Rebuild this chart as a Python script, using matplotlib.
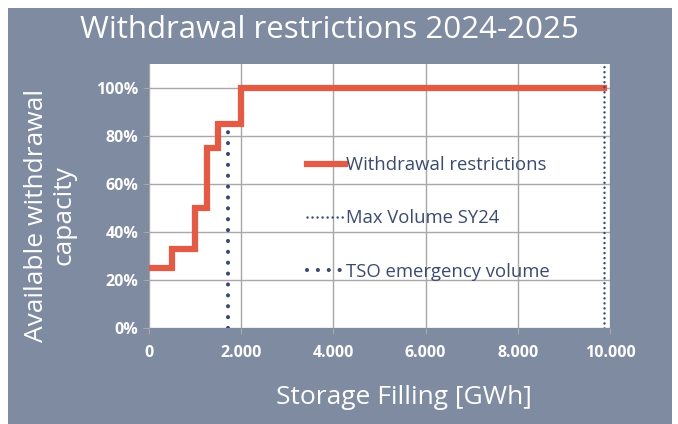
import matplotlib
matplotlib.use("Agg")
import matplotlib.pyplot as plt
from matplotlib.patches import Rectangle
from matplotlib.ticker import FuncFormatter

# Data
step_x = [0, 500, 1000, 1250, 1500, 2000, 9870]
step_y = [25, 33, 50, 75, 85, 100, 100]
max_volume_sy24 = 9870
tso_emergency_volume = 1710
tso_emergency_top = 86
x_ticks = [0, 2000, 4000, 6000, 8000, 10000]
y_ticks = [0, 20, 40, 60, 80, 100]

BG = "#7F8BA0"
RED = "#E35A45"
NAVY = "#3B4A6E"
GRID = "#A8A8A8"
FONT = ["Open Sans", "DejaVu Sans"]

plt.rcParams['font.family'] = FONT

fig = plt.figure(figsize=(6.78, 4.24), dpi=100)
fig.patches.append(Rectangle((8/678, 0), (672-8)/678, (424-8)/424,
                             transform=fig.transFigure, facecolor=BG,
                             edgecolor='none', zorder=-5))

ax = fig.add_axes([149/678, 1-328/424, (610-149)/678, (328-64)/424])
ax.set_facecolor("white")
ax.set_xlim(0, 10000)
ax.set_ylim(0, 110)

ax.step(step_x, step_y, where='post', color=RED, lw=4.5, solid_joinstyle='miter',
        label="Withdrawal restrictions", zorder=4)
ax.plot([max_volume_sy24, max_volume_sy24], [0, 110], color=NAVY, lw=1.8,
        linestyle=(0, (0.01, 2.0)), dash_capstyle='round', label="Max Volume SY24", zorder=5)
ax.plot([tso_emergency_volume, tso_emergency_volume], [0, tso_emergency_top], color=NAVY, lw=3,
        linestyle=(0, (0.01, 2.6)), dash_capstyle='round', label="TSO emergency volume", zorder=5)

ax.set_xticks(x_ticks)
ax.set_yticks(y_ticks)
ax.xaxis.set_major_formatter(FuncFormatter(lambda v, p: f"{int(v):,}".replace(",", ".")))
ax.yaxis.set_major_formatter(FuncFormatter(lambda v, p: f"{int(v)}%"))
ax.grid(True, color=GRID, lw=1.0)
ax.set_axisbelow(True)
for s in ax.spines.values():
    s.set_visible(False)
ax.tick_params(axis='both', colors=GRID, length=4, width=0.8, labelcolor='white', labelsize=11.5)
ax.tick_params(axis='x', pad=8)
for lab in ax.get_xticklabels() + ax.get_yticklabels():
    lab.set_fontweight('bold')

fig.text(329/678, 1-30/424, "Withdrawal restrictions 2024-2025", color='white',
         fontsize=22.5, ha='center', va='center')
fig.text(404/678, 1-397/424, "Storage Filling [GWh]", color='white',
         fontsize=19, ha='center', va='center')
fig.text(50/678, 1-215/424, "Available withdrawal\ncapacity", color='white',
         fontsize=19, ha='center', va='center', rotation=90, linespacing=1.12)

leg = ax.legend(loc='upper left', bbox_to_anchor=((300-149)/461, (328-149)/264),
                frameon=False, fontsize=13.3, labelcolor=NAVY, handlelength=2.05,
                handletextpad=0.05, labelspacing=1.9, borderaxespad=0)

fig.savefig("out.png", dpi=100)
